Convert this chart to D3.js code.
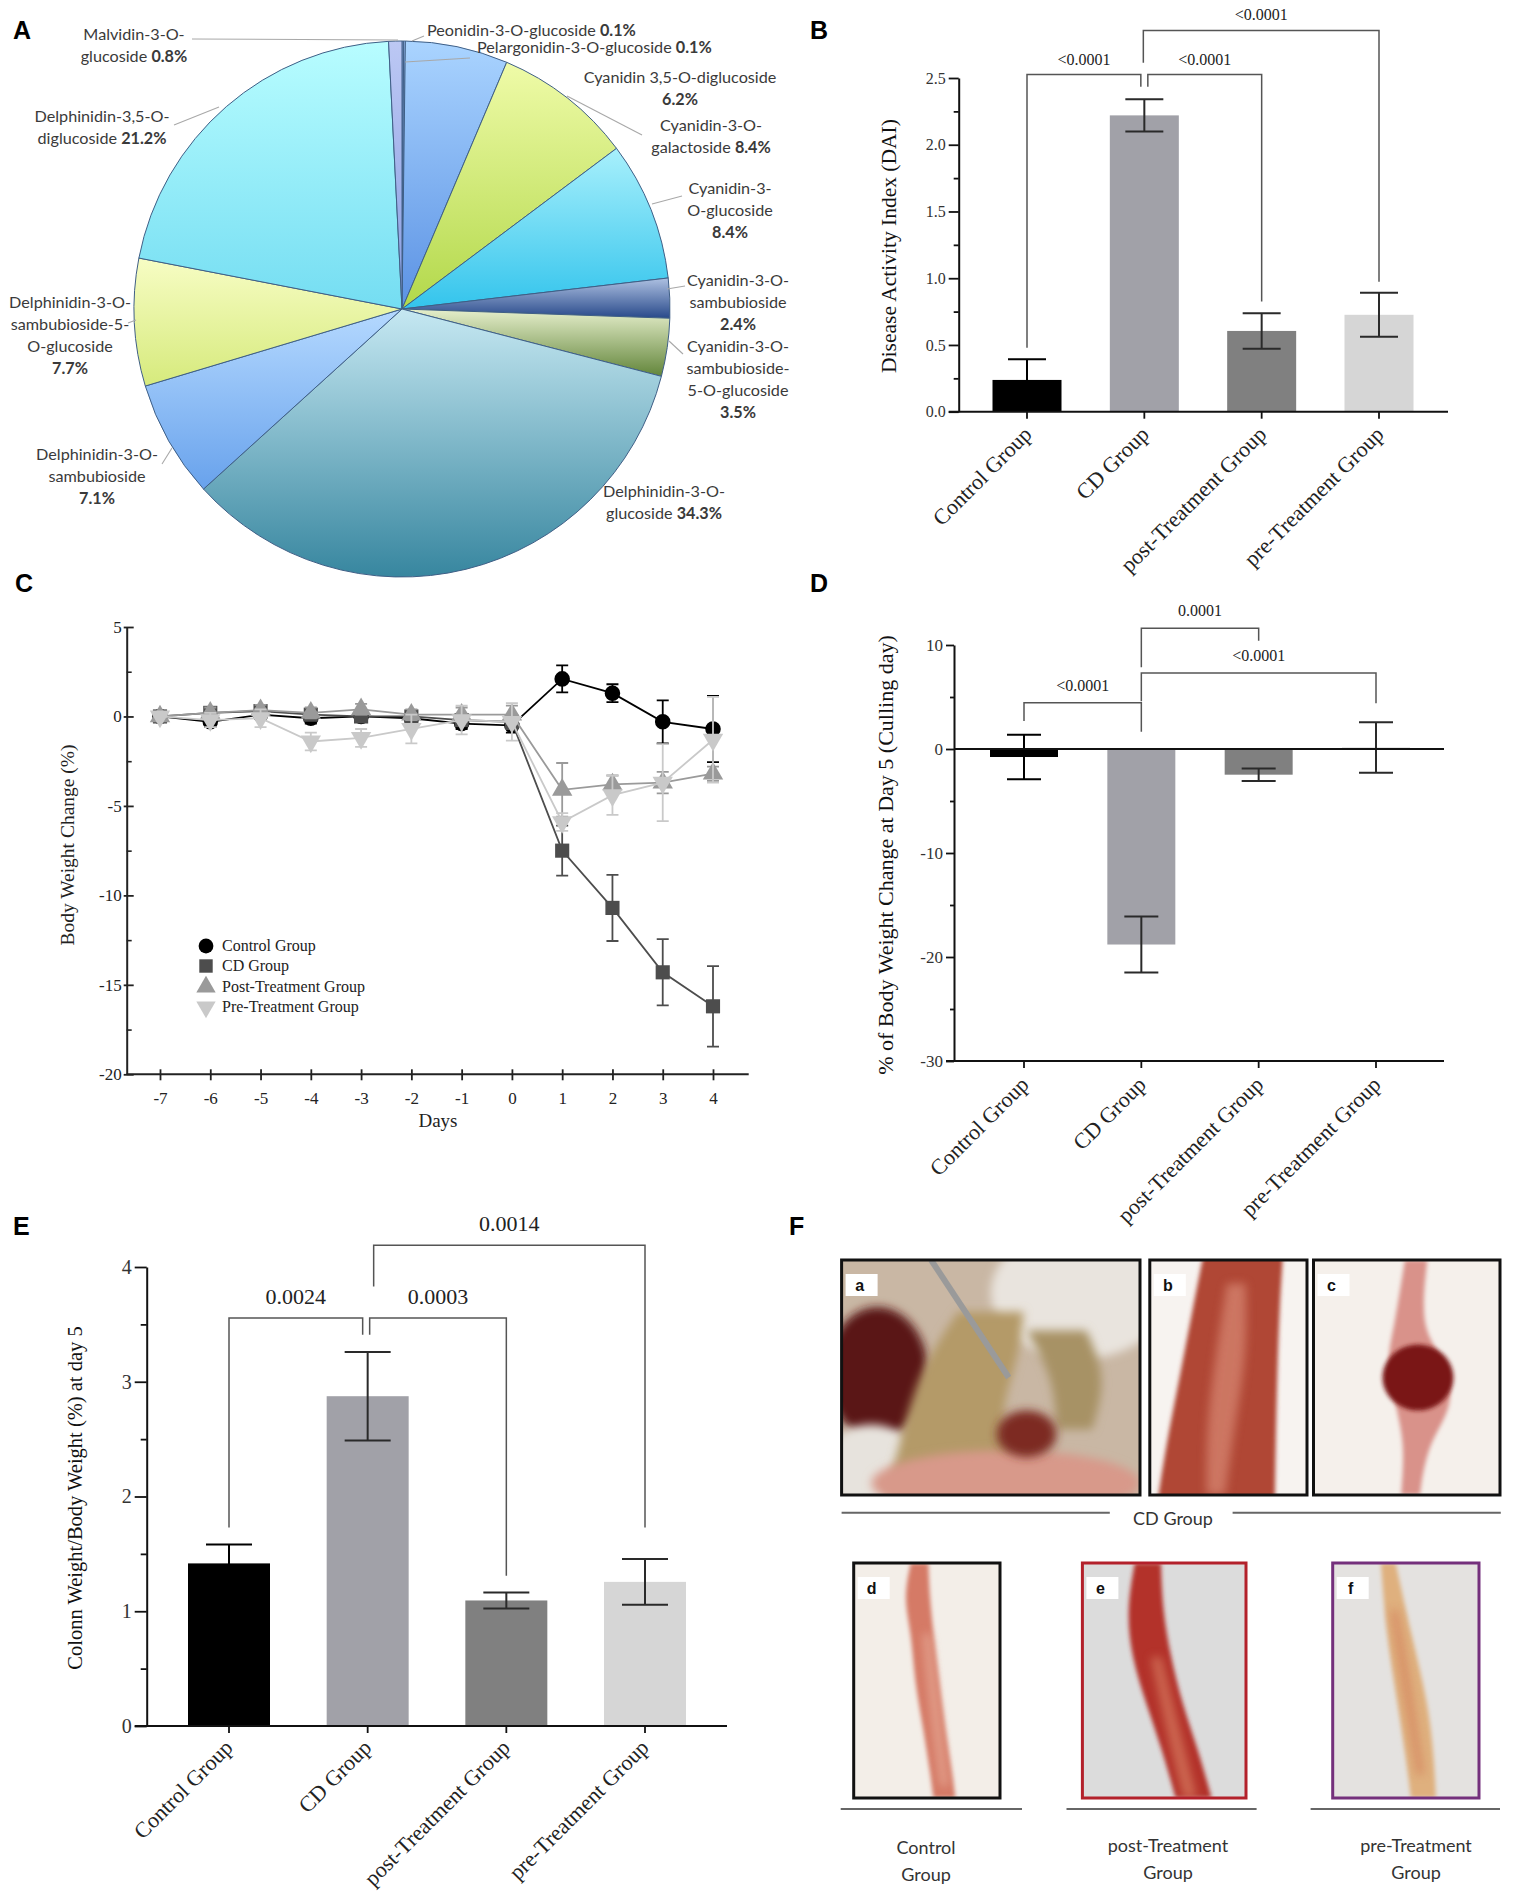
<!DOCTYPE html>
<html><head><meta charset="utf-8">
<script src="https://cdn.jsdelivr.net/npm/d3@7"></script>
<style>body{margin:0;background:#fff}svg{display:block}</style>
</head><body>
<svg id="fig" width="1535" height="1897"></svg>
<script>
// ---------------- DATA ----------------
const pieNames = [
  ["Peonidin-3-O-glucoside"],
  ["Pelargonidin-3-O-glucoside"],
  ["Cyanidin 3,5-O-diglucoside"],
  ["Cyanidin-3-O-","galactoside"],
  ["Cyanidin-3-","O-glucoside"],
  ["Cyanidin-3-O-","sambubioside"],
  ["Cyanidin-3-O-","sambubioside-","5-O-glucoside"],
  ["Delphinidin-3-O-","glucoside"],
  ["Delphinidin-3-O-","sambubioside"],
  ["Delphinidin-3-O-","sambubioside-5-","O-glucoside"],
  ["Delphinidin-3,5-O-","diglucoside"],
  ["Malvidin-3-O-","glucoside"]
];
const pieValues = [0.1, 0.1, 6.2, 8.4, 8.4, 2.4, 3.5, 34.3, 7.1, 7.7, 21.2, 0.8];

const groups = ["Control Group", "CD Group", "post-Treatment Group", "pre-Treatment Group"];

const daiMean = [0.238, 2.22, 0.605, 0.726];
const daiSem  = [0.155, 0.12, 0.133, 0.165];
const daiTicks = [0, 0.5, 1.0, 1.5, 2.0, 2.5];
const daiMinor = [0.25, 0.75, 1.25, 1.75, 2.25];
const daiPairs = [[0,1,"<0.0001"],[1,2,"<0.0001"],[1,3,"<0.0001"]];
const daiLevels = [[2.526,0.48,2.435],[2.526,2.435,0.826],[2.856,2.615,0.973]];

const days = [-7,-6,-5,-4,-3,-2,-1,0,1,2,3,4];
const bwControl = [0,-0.3,0.1,-0.1,0.0,-0.1,-0.4,-0.5,2.1,1.3,-0.3,-0.7];
const bwControlErr = [0,0.3,0.2,0.3,0.2,0.3,0.3,0.4,0.75,0.5,1.2,1.85];
const bwCD = [0,0.2,0.3,0.1,0.0,0.0,-0.2,-0.3,-7.5,-10.7,-14.3,-16.2];
const bwCDErr = [0,0.3,0.3,0.3,0.3,0.3,0.3,0.4,1.4,1.85,1.85,2.25];
const bwPost = [0,0.2,0.35,0.2,0.4,0.1,0.1,0.1,-4.1,-3.8,-3.7,-3.2];
const bwPostErr = [0,0.3,0.3,0.3,0.3,0.3,0.4,0.5,1.5,0.5,0.6,0.4];
const bwPre = [0,-0.2,-0.1,-1.4,-1.2,-0.7,-0.2,-0.3,-5.9,-4.4,-3.7,-1.3];
const bwPreErr = [0,0.4,0.5,0.5,0.5,0.8,0.8,1.05,0.5,1.1,2.15,2.4];
const bwSeriesNames = ["Control Group","CD Group","Post-Treatment Group","Pre-Treatment Group"];
const bwTicks = [5,0,-5,-10,-15,-20];
const bwMinor = [2.5,-2.5,-7.5,-12.5,-17.5];

const d5Mean = [-0.77, -18.8, -2.47, 0.15];
const d5Sem  = [2.15, 2.7, 0.6, 2.43];
const d5Ticks = [10, 0, -10, -20, -30];
const d5Minor = [5, -5, -15, -25];
const d5Pairs = [[0,1,"<0.0001"],[1,2,"0.0001"],[1,3,"<0.0001"]];
const d5Levels = [[4.45,2.7,1.66],[11.6,7.85,10.4],[7.3,4.6,4.4]];

const cwMean = [1.417, 2.874, 1.094, 1.256];
const cwSem  = [0.165, 0.385, 0.07, 0.2];
const cwTicks = [0,1,2,3,4];
const cwMinor = [0.5,1.5,2.5,3.5];
const cwPairs = [[0,1,"0.0024"],[1,2,"0.0003"],[1,3,"0.0014"]];
const cwLevels = [[3.555,1.73,3.41],[3.555,3.41,1.31],[4.19,3.83,1.73]];

const photoLetters = ["a","b","c","d","e","f"];
const photoCaptions = [["CD Group"],["Control","Group"],["post-Treatment","Group"],["pre-Treatment","Group"]];

// ---------------- STYLE / LAYOUT ----------------
const SERIF = "'Liberation Serif','Times New Roman',serif";
const SANS = "'Liberation Sans',Arial,sans-serif";
const PIEF = "Lato,'Open Sans',sans-serif";
const barColors = ["#000000","#a1a1a8","#808080","#d6d6d6"];
const errColors = ["#000000","#2a2a2a","#2a2a2a","#2a2a2a"];
const lineColors = ["#000000","#4d4d4d","#9a9a9a","#c9c9c9"];
const pieColors = [
 ["#9db4f2","#5d80d8"],["#a6c9ff","#6f9ef0"],["#aad4ff","#5b92e4"],["#effba8","#b2d84a"],
 ["#a8f0fc","#33c4ec"],["#aec1e2","#28498a"],["#e6efcc","#62853a"],["#c6e8f2","#37869f"],
 ["#b5d9ff","#68a2ec"],["#f7fdc4","#d6ea7c"],["#b8fdff","#74ddf2"],["#bcc8f4","#8a9de0"]
];
const plain = d => String(d);

const svg = d3.select("#fig");
const defs = svg.append("defs");

// panel letters
const letterPos = [[13,39],[810,39],[15,592],[810,592],[13,1235],[789,1235]];
["A","B","C","D","E","F"].forEach((l,i)=>{
  svg.append("text").attr("x",letterPos[i][0]).attr("y",letterPos[i][1]).text(l)
    .attr("font-family",SANS).attr("font-weight","bold").attr("font-size",25).attr("fill","#000");
});

// ---------------- PANEL A : PIE ----------------
(function(){
  const cx = 402, cy = 309, R = 268;
  const arcs = d3.pie().sort(null).value(d=>d)(pieValues);
  const arcGen = d3.arc().innerRadius(0).outerRadius(R);
  pieColors.forEach((c,i)=>{
    const lg = defs.append("linearGradient").attr("id","pg"+i).attr("x1",0).attr("y1",0).attr("x2",0).attr("y2",1);
    lg.append("stop").attr("offset","0%").attr("stop-color",c[0]);
    lg.append("stop").attr("offset","100%").attr("stop-color",c[1]);
  });
  const g = svg.append("g").attr("transform",`translate(${cx},${cy})`);
  g.selectAll("path").data(arcs).join("path")
    .attr("d",arcGen).attr("fill",(d,i)=>`url(#pg${i})`)
    .attr("stroke","#3f5f86").attr("stroke-width",1).attr("stroke-linejoin","round");

  const labLayout = [
    [427,30,"start",false],[477,47,"start",false],[680,77,"middle",true],[711,125,"middle",false],
    [730,188,"middle",true],[738,280,"middle",true],[738,346,"middle",true],[664,491,"middle",false],
    [97,454,"middle",true],[70,302,"middle",true],[102,116,"middle",false],[134,34,"middle",false]
  ];
  const leaders = [
    [424,36,412,41],[470,58,405,62],null,[567,96,642,135],[652,204,682,196],[667,289,685,286],
    [669,341,683,354],null,[162,464,172,448],[128,323,136,320],[174,125,219,107],[192,39,398,40]
  ];
  const lg = svg.append("g");
  leaders.forEach(l=>{ if(l) lg.append("line").attr("x1",l[0]).attr("y1",l[1]).attr("x2",l[2]).attr("y2",l[3])
      .attr("stroke","#a8a8a8").attr("stroke-width",1.1); });
  pieNames.forEach((lines,i)=>{
    const L = labLayout[i];
    const pct = pieValues[i].toFixed(1) + "%";
    const rows = lines.map(t=>[t,null]);
    if (L[3]) rows.push([null,pct]); else rows[rows.length-1][1] = pct;
    rows.forEach((r,k)=>{
      const t = lg.append("text").attr("x",L[0]).attr("y",L[1]+5.5+k*22).attr("text-anchor",L[2])
        .attr("font-family",PIEF).attr("font-size",16.2).attr("fill","#3a3a3a");
      if (r[0]) t.append("tspan").text(r[0] + (r[1] ? " " : ""));
      if (r[1]) t.append("tspan").attr("font-weight","bold").text(r[1]);
    });
  });
})();

// ---------------- BAR PANEL HELPER ----------------
function barPanel(o){
  const g = svg.append("g");
  const y = d3.scaleLinear().domain(o.domain).range(o.yRange);
  const x = d3.scalePoint().domain(groups).range(o.xRange);
  const base = y(0);
  g.selectAll("rect.bar").data(o.means).join("rect").attr("class","bar")
    .attr("x",(d,i)=>x(groups[i]) - o.barW/2).attr("width",o.barW)
    .attr("y",d=>Math.min(y(d),base)).attr("height",d=>Math.abs(y(d)-base))
    .attr("fill",(d,i)=>barColors[i]);
  const eg = g.append("g").attr("stroke-width",2);
  o.means.forEach((m,i)=>{
    const cxp = x(groups[i]);
    const hi = y(m + o.sems[i]), lo = y(m - o.sems[i]);
    eg.append("path").attr("d",`M${cxp},${hi}V${lo}M${cxp-o.cap},${hi}H${cxp+o.cap}M${cxp-o.cap},${lo}H${cxp+o.cap}`)
      .attr("stroke",errColors[i]).attr("fill","none");
  });
  if (o.zeroLine) g.append("line").attr("x1",o.axisX).attr("x2",o.xAxisEnd).attr("y1",base).attr("y2",base)
      .attr("stroke","#111").attr("stroke-width",2);
  const ya = g.append("g").attr("transform",`translate(${o.axisX},0)`)
    .call(d3.axisLeft(y).tickValues(o.ticks).tickFormat(o.fmt).tickSize(o.majorLen).tickSizeOuter(0).tickPadding(3));
  ya.select(".domain").attr("stroke","#111").attr("stroke-width",2);
  ya.selectAll(".tick line").attr("stroke","#111").attr("stroke-width",1.8);
  ya.selectAll(".tick text").attr("font-family",SERIF).attr("font-size",o.tickFont).attr("fill","#333");
  const ym = g.append("g").attr("transform",`translate(${o.axisX},0)`)
    .call(d3.axisLeft(y).tickValues(o.minor).tickFormat("").tickSize(o.minorLen).tickSizeOuter(0));
  ym.select(".domain").remove();
  ym.selectAll(".tick line").attr("stroke","#111").attr("stroke-width",1.8);
  const axY = y(o.xAxisAt);
  g.append("line").attr("x1",o.axisX - o.majorLen).attr("x2",o.xAxisEnd).attr("y1",axY).attr("y2",axY)
    .attr("stroke","#111").attr("stroke-width",2);
  groups.forEach((gname,i)=>{
    const cxp = x(gname);
    g.append("line").attr("x1",cxp).attr("x2",cxp).attr("y1",axY).attr("y2",axY+7).attr("stroke","#111").attr("stroke-width",1.8);
    g.append("text").attr("transform",`translate(${cxp+o.lx},${axY+o.ly}) rotate(-45)`)
      .attr("text-anchor","end").attr("font-family",SERIF).attr("font-size",o.xFont).attr("fill","#222").text(gname);
  });
  g.append("text").attr("transform",`translate(${o.yl[0]},${o.yl[1]}) rotate(-90)`).attr("text-anchor","middle")
    .attr("font-family",SERIF).attr("font-size",o.ylFont).attr("fill","#111").text(o.ylabel);
  const bg = g.append("g").attr("fill","none").attr("stroke","#555").attr("stroke-width",1.5);
  o.pairs.forEach((p,k)=>{
    const lv = o.levels[k];
    const xa = x(groups[p[0]]) + o.offs[k][0], xb = x(groups[p[1]]) + o.offs[k][1];
    const yy = y(lv[0]);
    bg.append("path").attr("d",`M${xa},${y(lv[1])}V${yy}H${xb}V${y(lv[2])}`);
    g.append("text").attr("x",(xa+xb)/2).attr("y",yy - o.labUp).attr("text-anchor","middle")
      .attr("font-family",SERIF).attr("font-size",o.bFont).attr("fill","#222").text(p[2]);
  });
}

// ---------------- PANEL B ----------------
barPanel({domain:[0,2.5], yRange:[411.7,78], xRange:[1027,1379], barW:69, means:daiMean, sems:daiSem,
  cap:19, axisX:958.7, xAxisEnd:1448, xAxisAt:0, ticks:daiTicks, minor:daiMinor, fmt:d3.format(".1f"),
  majorLen:10, minorLen:5, tickFont:16, xFont:22, lx:6, ly:24, ylabel:"Disease Activity Index (DAI)",
  yl:[896,246], ylFont:21.5, pairs:daiPairs, levels:daiLevels, offs:[[0,-3.5],[3.5,0],[-1,0]], labUp:10, bFont:16});

// ---------------- PANEL D ----------------
barPanel({domain:[-30,10], yRange:[1061,645], xRange:[1024,1376], barW:68, means:d5Mean, sems:d5Sem,
  cap:17, axisX:954, xAxisEnd:1444, xAxisAt:-30, zeroLine:true, ticks:d5Ticks, minor:d5Minor, fmt:plain,
  majorLen:8, minorLen:4, tickFont:17, xFont:22, lx:6, ly:25, ylabel:"% of Body Weight Change at Day 5 (Culling day)",
  yl:[893,855], ylFont:22, pairs:d5Pairs, levels:d5Levels, offs:[[0,0],[0,0],[0,0]], labUp:12, bFont:16});

// ---------------- PANEL E ----------------
barPanel({domain:[0,4], yRange:[1726,1267], xRange:[229,645], barW:82, means:cwMean, sems:cwSem,
  cap:23, axisX:146.7, xAxisEnd:727, xAxisAt:0, ticks:cwTicks, minor:cwMinor, fmt:plain,
  majorLen:12, minorLen:6, tickFont:20, xFont:22, lx:5, ly:23, ylabel:"Colonn Weight/Body Weight (%) at day 5",
  yl:[82,1498], ylFont:20.5, pairs:cwPairs, levels:cwLevels, offs:[[0,-5],[2,0],[6,0]], labUp:14, bFont:22});

// ---------------- PANEL C : LINE ----------------
(function(){
  const g = svg.append("g");
  const x = d3.scaleLinear().domain([-7,4]).range([160,713]);
  const y = d3.scaleLinear().domain([-20,5]).range([1074.3,627]);
  const axX = 126.7, axY = y(-20);
  const series = [bwControl, bwCD, bwPost, bwPre];
  const errs = [bwControlErr, bwCDErr, bwPostErr, bwPreErr];
  const symTypes = [d3.symbolCircle, d3.symbolSquare, d3.symbolTriangle, d3.symbolTriangle];
  const symSizes = [190, 200, 180, 180];
  const symRot = [0,0,0,180];
  const ya = g.append("g").attr("transform",`translate(${axX},0)`)
    .call(d3.axisLeft(y).tickValues(bwTicks).tickFormat(plain).tickSize(-7).tickSizeOuter(0).tickPadding(5));
  ya.select(".domain").attr("stroke","#222").attr("stroke-width",2);
  ya.selectAll(".tick line").attr("stroke","#222").attr("stroke-width",1.8).attr("x1",-3);
  ya.selectAll(".tick text").attr("font-family",SERIF).attr("font-size",17).attr("fill","#222");
  const ym = g.append("g").attr("transform",`translate(${axX},0)`)
    .call(d3.axisLeft(y).tickValues(bwMinor).tickFormat("").tickSize(-5).tickSizeOuter(0));
  ym.select(".domain").remove();
  ym.selectAll(".tick line").attr("stroke","#222").attr("stroke-width",1.6);
  const xa = g.append("g").attr("transform",`translate(0,${axY})`)
    .call(d3.axisBottom(x).tickValues(days).tickFormat(plain).tickSize(6).tickSizeOuter(0).tickPadding(12));
  xa.select(".domain").remove();
  xa.selectAll(".tick line").attr("stroke","#222").attr("stroke-width",1.8).attr("y1",-5);
  xa.selectAll(".tick text").attr("font-family",SERIF).attr("font-size",17).attr("fill","#222");
  g.append("line").attr("x1",axX).attr("x2",748.7).attr("y1",axY).attr("y2",axY).attr("stroke","#222").attr("stroke-width",2);
  g.append("text").attr("x",438).attr("y",1127).attr("text-anchor","middle").attr("font-family",SERIF)
    .attr("font-size",19).attr("fill","#222").text("Days");
  g.append("text").attr("transform","translate(74,845) rotate(-90)").attr("text-anchor","middle")
    .attr("font-family",SERIF).attr("font-size",19.5).attr("fill","#222").text("Body Weight Change (%)");
  const line = d3.line().x((d,i)=>x(days[i])).y(d=>y(d));
  series.forEach((s,k)=>{
    const sg = g.append("g");
    const col = lineColors[k];
    sg.append("path").attr("d",line(s)).attr("fill","none").attr("stroke",col).attr("stroke-width",1.8);
    s.forEach((v,i)=>{
      const e = errs[k][i]; if (!e) return;
      const xx = x(days[i]);
      sg.append("path").attr("d",`M${xx},${y(v-e)}V${y(v+e)}M${xx-6},${y(v+e)}H${xx+6}M${xx-6},${y(v-e)}H${xx+6}`)
        .attr("stroke",col).attr("stroke-width",1.8).attr("fill","none");
    });
    sg.selectAll("path.sym").data(s).join("path").attr("class","sym")
      .attr("transform",(d,i)=>`translate(${x(days[i])},${y(d)}) rotate(${symRot[k]})`)
      .attr("d",d3.symbol().type(symTypes[k]).size(symSizes[k])).attr("fill",col);
  });
  const legY = [946,966,987,1007];
  bwSeriesNames.forEach((n,k)=>{
    g.append("path").attr("transform",`translate(206,${legY[k]}) rotate(${symRot[k]})`)
      .attr("d",d3.symbol().type(symTypes[k]).size(symSizes[k]*0.9)).attr("fill",lineColors[k]);
    g.append("text").attr("x",222).attr("y",legY[k]+5).attr("font-family",SERIF).attr("font-size",16)
      .attr("fill","#222").text(n);
  });
})();

// ---------------- PANEL F : PHOTOS ----------------
(function(){
  [["blur",2],["blurA",5]].forEach(b=>{
    const f = defs.append("filter").attr("id",b[0]).attr("x","-30%").attr("y","-30%").attr("width","160%").attr("height","160%");
    f.append("feGaussianBlur").attr("stdDeviation",b[1]);
  });
  const tube = (g,w,h,pts,col,op,flt)=>{
    const a = d3.area().curve(d3.curveBasis).y(p=>p[0]*h).x0(p=>(p[1]-p[2]/2)*w).x1(p=>(p[1]+p[2]/2)*w);
    g.append("path").attr("d",a(pts)).attr("fill",col).attr("opacity",op||1).attr("filter",`url(#${flt||"blur"})`);
  };
  const blob = (g,cx,cy,rx,ry,col,flt)=>g.append("ellipse").attr("cx",cx).attr("cy",cy).attr("rx",rx).attr("ry",ry)
      .attr("fill",col).attr("filter",`url(#${flt||"blurA"})`);
  const frames = [
    [841.6,1260,298.4,235,"#111"],[1149.8,1260,157.2,235,"#111"],[1313.5,1260,186.5,235,"#111"],
    [853.7,1563,146.3,235,"#111"],[1082.4,1563,163.6,235,"#b3212b"],[1332.7,1563,146.3,235,"#74307c"]
  ];
  const painters = [
    (g,w,h)=>{
      g.append("rect").attr("width",w).attr("height",h).attr("fill","#c9b7a4");
      blob(g,w*0.8,h*0.14,w*0.3,h*0.28,"#e9e4de");
      blob(g,w*0.12,h*0.48,w*0.17,h*0.28,"#5a1818");
      blob(g,w*0.1,h*0.88,w*0.16,h*0.18,"#e7e3dd");
      tube(g,w,h,[[0.22,0.5,0.22],[0.45,0.43,0.32],[0.7,0.36,0.3],[1,0.4,0.5]],"#b49a68",1,"blurA");
      tube(g,w,h,[[0.3,0.72,0.2],[0.5,0.8,0.18],[0.72,0.78,0.12]],"#a79265",1,"blurA");
      blob(g,w*0.55,h*0.95,w*0.45,h*0.14,"#d8998a");
      blob(g,w*0.62,h*0.74,w*0.1,h*0.1,"#7d2a22");
      g.append("path").attr("d",`M${w*0.3},0L${w*0.56},${h*0.5}`).attr("stroke","#9a9a9a").attr("stroke-width",6).attr("fill","none");
    },
    (g,w,h)=>{
      g.append("rect").attr("width",w).attr("height",h).attr("fill","#f7f3f0");
      tube(g,w,h,[[-0.05,0.6,0.5],[0.2,0.55,0.55],[0.5,0.5,0.62],[0.8,0.45,0.7],[1.05,0.42,0.75]],"#b04636");
      tube(g,w,h,[[0.1,0.55,0.12],[0.4,0.52,0.2],[0.7,0.45,0.18],[1,0.42,0.12]],"#d98a76",0.7,"blurA");
    },
    (g,w,h)=>{
      g.append("rect").attr("width",w).attr("height",h).attr("fill","#f5f0eb");
      tube(g,w,h,[[0,0.55,0.12],[0.3,0.5,0.14],[0.42,0.55,0.32],[0.62,0.6,0.32],[0.78,0.55,0.12],[1,0.52,0.1]],"#d9928a");
      blob(g,w*0.56,h*0.5,w*0.19,h*0.14,"#7a1616","blur");
    },
    (g,w,h)=>{
      g.append("rect").attr("width",w).attr("height",h).attr("fill","#f3eee8");
      tube(g,w,h,[[0,0.45,0.12],[0.15,0.43,0.18],[0.3,0.47,0.15],[0.5,0.5,0.17],[0.7,0.55,0.15],[0.9,0.6,0.15],[1,0.62,0.15]],"#d57a66");
      tube(g,w,h,[[0.3,0.5,0.05],[0.6,0.55,0.06],[0.95,0.62,0.05]],"#eab4a0",0.7,"blurA");
    },
    (g,w,h)=>{
      g.append("rect").attr("width",w).attr("height",h).attr("fill","#dcdcdc");
      tube(g,w,h,[[0,0.4,0.16],[0.2,0.38,0.22],[0.4,0.42,0.24],[0.6,0.5,0.22],[0.8,0.6,0.22],[1,0.68,0.22]],"#b3332b");
      tube(g,w,h,[[0.4,0.45,0.06],[0.7,0.55,0.08],[1,0.66,0.08]],"#d98064",0.7,"blurA");
    },
    (g,w,h)=>{
      g.append("rect").attr("width",w).attr("height",h).attr("fill","#e4e2e0");
      tube(g,w,h,[[0,0.38,0.1],[0.3,0.45,0.17],[0.6,0.55,0.21],[0.85,0.6,0.19],[1,0.62,0.17]],"#dfb07e");
      tube(g,w,h,[[0.2,0.42,0.04],[0.5,0.5,0.05],[0.9,0.6,0.04]],"#cf6a4c",0.6,"blurA");
    }
  ];
  frames.forEach((f,i)=>{
    const [x,y,w,h,col] = f;
    const g = svg.append("g").attr("transform",`translate(${x},${y})`);
    defs.append("clipPath").attr("id","clp"+i).append("rect").attr("width",w).attr("height",h);
    const inner = g.append("g").attr("clip-path",`url(#clp${i})`);
    painters[i](inner,w,h);
    inner.append("rect").attr("x",4).attr("y",14).attr("width",32).attr("height",22).attr("fill","#fff");
    g.append("text").attr("x",18).attr("y",31).attr("text-anchor","middle").attr("font-family",SANS)
      .attr("font-weight","bold").attr("font-size",16).attr("fill","#111").text(photoLetters[i]);
    g.append("rect").attr("width",w).attr("height",h).attr("fill","none").attr("stroke",col).attr("stroke-width",3);
  });
  const rule = (x1,x2,y)=>svg.append("line").attr("x1",x1).attr("x2",x2).attr("y1",y).attr("y2",y).attr("stroke","#666").attr("stroke-width",2);
  rule(841.6,1109.8,1512.8); rule(1232.6,1500.8,1512.8);
  rule(840.7,1022,1809); rule(1066.5,1256.6,1809); rule(1310.6,1500,1809);
  const capPos = [[1173,1525],[926,1854],[1168,1852],[1416,1852]];
  photoCaptions.forEach((c,i)=>{
    c.forEach((t,k)=>svg.append("text").attr("x",capPos[i][0]).attr("y",capPos[i][1]+k*27).attr("text-anchor","middle")
      .attr("font-family",PIEF).attr("font-size",18).attr("fill","#333").text(t));
  });
})();
</script>
</body></html>
